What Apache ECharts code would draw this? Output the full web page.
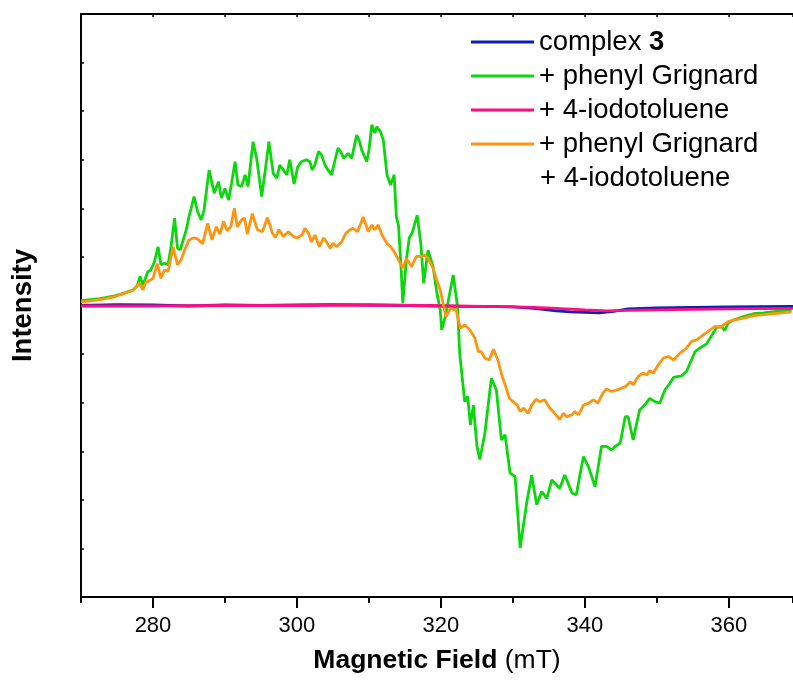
<!DOCTYPE html>
<html>
<head>
<meta charset="utf-8">
<script src="https://cdn.jsdelivr.net/npm/echarts@6/dist/echarts.min.js"></script>
<style>
  html, body { margin: 0; padding: 0; background: #fff; }
  #myChart { width: 793px; height: 682px; }
</style>
</head>
<body>
<div id="myChart"></div>
<script>
// field range (mT) and labelled ticks
var fieldMin = 270, fieldMax = 368.9;
var labelStart = 280, labelStep = 20;

var seriesNames = ['complex 3', '+ phenyl Grignard', '+ 4-iodotoluene', '+ phenyl Grignard / + 4-iodotoluene'];
var seriesColors = ['#0f1fb3', '#0cd60c', '#ff0d82', '#ff9410'];

// [field (mT), intensity (a.u.)]
var complexData = [[270,0],[275,2],[280,1],[285,-1],[290,1],[295,0],[300,1],[305,2],[310,1],[315,0],[320,-1],[323,-2],
  [326,-2],[330,-3],[333,-6],[336,-11],[338,-13],[340,-14],[342,-15],[344,-12],[346,-7],[350,-5],[355,-4],[360,-3],[368.9,-2]];

var grignardData = [[270.0,10],[272.6,14],[274.7,20],[276.1,26],[277.2,32],[277.8,40],[278.2,60],[278.6,42],[279.3,70],
  [279.7,73],[280.2,90],[280.7,121],[281.1,84],[281.6,87],[282.1,84],[282.5,121],[283.0,180],[283.4,118],[283.8,115],
  [284.2,135],[284.7,160],[285.0,183],[285.3,200],[285.7,224],[286.2,193],[286.7,176],[287.1,197],[287.5,245],[287.8,279],
  [288.5,231],[289.1,255],[289.5,221],[290.0,241],[290.5,217],[290.9,250],[291.4,296],[291.8,248],[292.3,245],[292.8,269],
  [293.2,245],[293.9,337],[294.4,303],[295.1,224],[295.6,279],[296.1,337],[296.7,272],[297.2,262],[297.6,289],[298.1,279],
  [298.6,269],[299.0,300],[299.6,250],[300.1,285],[300.6,296],[301.3,300],[301.8,296],[302.1,279],[302.5,290],[303.0,317],
  [303.4,310],[303.9,289],[304.3,279],[304.8,269],[305.3,300],[305.7,324],[306.2,313],[306.5,303],[307.1,313],[307.6,303],
  [308.3,351],[308.7,337],[309.0,320],[309.7,296],[310.0,320],[310.4,372],[310.8,355],[311.1,368],[311.3,372],[311.6,358],
  [312.0,340],[312.5,269],[313.0,248],[313.5,269],[313.8,183],[314.1,165],[314.4,94],[314.7,5],[315.0,60],[315.2,94],
  [315.6,140],[316.0,149],[316.2,160],[316.7,186],[317.2,128],[317.6,46],[317.8,46],[318.2,114],[318.9,80],[319.4,29],
  [319.9,-9],[320.1,-50],[320.6,-23],[321.7,63],[322.3,-2],[322.6,-98],[323.3,-198],[323.7,-187],[324.1,-246],[324.5,-205],
  [325.0,-290],[325.4,-317],[326.1,-263],[327.0,-150],[327.7,-174],[328.4,-277],[328.9,-266],[329.6,-345],[330.3,-352],
  [331.0,-499],[331.9,-407],[332.6,-349],[333.3,-410],[334.0,-383],[334.7,-397],[335.4,-359],[336.5,-376],[337.2,-349],
  [338.2,-386],[338.8,-390],[339.3,-349],[339.8,-311],[340.5,-332],[341.4,-373],[342.3,-290],[343.0,-290],[343.7,-297],
  [344.2,-290],[344.9,-283],[345.6,-229],[346.0,-229],[346.7,-277],[347.2,-242],[347.6,-215],[348.3,-205],[349.0,-191],
  [349.7,-198],[350.4,-201],[351.1,-174],[351.8,-160],[352.3,-148],[353.4,-145],[354.1,-136],[354.6,-119],[355.3,-95],
  [355.9,-88],[356.9,-79],[357.8,-57],[358.3,-45],[359.0,-43],[359.4,-52],[359.9,-36],[360.6,-30],[362.0,-23],[363.4,-17],
  [364.8,-15],[366.6,-12],[368.7,-10]];

var iodoData = [[270,-1],[280,-1],[290,0],[300,0],[310,1],[318,0],[322,-1],[326,-2],[330,-3],[333,-4],[336,-6],[340,-9],
  [343,-11],[346,-10],[350,-9],[355,-8],[360,-7],[368.9,-6]];

var bothData = [[270.0,7],[272.6,12],[274.7,18],[275.4,22],[277.3,32],[278.1,46],[278.6,32],[279.0,49],[279.3,49],[280.0,56],
  [280.6,86],[281.1,56],[281.6,73],[282.1,70],[282.8,121],[283.4,84],[283.9,94],[284.4,114],[285.0,135],[285.6,139],
  [286.2,137],[286.9,127],[287.6,169],[288.2,135],[288.8,162],[289.3,147],[289.8,173],[290.3,154],[290.8,162],[291.3,200],
  [291.7,162],[292.3,176],[292.7,180],[293.1,147],[293.8,189],[294.5,156],[295.2,152],[295.9,181],[296.6,149],[297.0,140],
  [297.5,156],[298.1,142],[298.8,152],[299.5,142],[300.0,139],[300.7,145],[301.1,159],[301.6,149],[302.0,131],[302.5,145],
  [303.1,121],[303.7,139],[304.1,131],[304.6,118],[305.0,128],[305.5,121],[306.2,131],[306.8,149],[307.4,156],[307.8,159],
  [308.4,152],[308.8,166],[309.2,182],[309.9,152],[310.4,166],[310.8,156],[311.3,166],[311.8,145],[312.5,128],[313.0,121],
  [313.5,111],[314.1,94],[314.7,77],[315.2,97],[315.9,80],[316.6,101],[317.3,101],[317.8,104],[318.2,97],[318.9,77],
  [319.4,53],[319.9,32],[320.4,-2],[320.7,-23],[321.3,-6],[322.1,-9],[322.7,-47],[323.3,-40],[324.0,-50],[324.7,-67],
  [325.2,-95],[325.6,-95],[326.1,-108],[326.7,-112],[327.3,-90],[327.9,-112],[328.5,-146],[329.0,-167],[329.5,-191],
  [330.0,-198],[330.6,-205],[331.0,-218],[331.5,-211],[332.1,-222],[332.6,-205],[333.2,-193],[333.7,-198],[334.4,-194],
  [335.1,-211],[335.8,-222],[336.5,-235],[337.0,-222],[337.5,-229],[338.2,-225],[338.6,-218],[339.1,-225],[339.8,-205],
  [340.5,-201],[341.2,-194],[341.8,-201],[342.5,-180],[343.0,-172],[343.7,-177],[344.8,-172],[345.6,-167],[346.3,-157],
  [346.7,-163],[347.4,-146],[348.1,-139],[348.6,-143],[349.0,-134],[349.5,-139],[350.2,-122],[350.9,-108],[351.6,-105],
  [352.3,-112],[353.2,-98],[354.1,-88],[354.8,-74],[355.5,-71],[356.4,-61],[357.4,-50],[358.1,-43],[358.8,-45],[359.9,-33],
  [360.6,-30],[362.0,-26],[363.4,-21],[364.8,-19],[366.6,-16],[368.7,-13]];

var allData = [complexData, grignardData, iodoData, bothData];
var fontFam = 'Liberation Sans, Arial, sans-serif';

var myChart = echarts.init(document.getElementById('myChart'));

var series = allData.map(function (d, i) {
    return {
        name: seriesNames[i],
        type: 'line',
        data: d,
        showSymbol: false,
        symbol: 'none',
        color: seriesColors[i],
        lineStyle: { width: 2.8, color: seriesColors[i] },
        z: 2 + i
    };
});

// plot box width in px, used to start the labelled-tick grid at 280 mT
var plotLeft = 81, plotWidth = 793 - 81;
var labelGridLeft = plotLeft + plotWidth * (labelStart - fieldMin) / (fieldMax - fieldMin);

var option = {
    animation: false,
    grid: [
        { left: plotLeft, top: 14, right: 0, bottom: 85, outerBoundsMode: 'none' },
        { left: labelGridLeft, top: 14, right: 0, bottom: 85, outerBoundsMode: 'none' }
    ],
    legend: {
        orient: 'vertical',
        left: 471,
        top: 25,
        padding: 0,
        itemWidth: 63,
        itemHeight: 3,
        itemGap: 0,
        icon: 'rect',
        selectedMode: false,
        data: seriesNames,
        formatter: function (name) {
            if (name === 'complex 3') return 'complex {b|3}';
            if (name === seriesNames[3]) return '+ phenyl Grignard';
            return name;
        },
        textStyle: {
            fontFamily: fontFam, fontSize: 27.5, lineHeight: 34, color: '#000',
            rich: { b: { fontFamily: fontFam, fontSize: 27.5, lineHeight: 34, fontWeight: 'bold', color: '#000' } }
        }
    },
    graphic: [{
        type: 'text',
        left: 540,
        top: 164,
        style: { text: '+ 4-iodotoluene', font: '27.5px ' + fontFam, fill: '#000' }
    }],
    xAxis: [{
        // main axis: short ticks every 10 mT
        type: 'value', gridIndex: 0, min: fieldMin, max: fieldMax, interval: 10, position: 'bottom',
        axisLine: { show: true, onZero: false, lineStyle: { color: '#000', width: 2 } },
        axisTick: { show: true, length: 6, lineStyle: { color: '#000', width: 2 } },
        axisLabel: { show: false },
        splitLine: { show: false },
        name: '{b|Magnetic Field} (mT)',
        nameLocation: 'middle',
        nameGap: 50,
        nameTextStyle: {
            fontFamily: fontFam, fontSize: 26.5, color: '#000',
            rich: { b: { fontFamily: fontFam, fontSize: 26.5, fontWeight: 'bold', color: '#000' } }
        }
    }, {
        type: 'value', gridIndex: 0, min: fieldMin, max: fieldMax, interval: 10, position: 'top',
        axisLine: { show: true, onZero: false, lineStyle: { color: '#000', width: 2 } },
        axisTick: { show: true, inside: true, length: 3, lineStyle: { color: '#000', width: 1.5 } },
        axisLabel: { show: false },
        splitLine: { show: false }
    }, {
        // labelled long ticks every 20 mT, starting at 280
        type: 'value', gridIndex: 1, min: labelStart, max: fieldMax, interval: labelStep, position: 'bottom',
        axisLine: { show: false, onZero: false },
        axisTick: { show: true, length: 11, lineStyle: { color: '#000', width: 2 } },
        axisLabel: { showMaxLabel: false, margin: 18, fontSize: 22, color: '#000', fontFamily: fontFam },
        splitLine: { show: false }
    }],
    yAxis: [{
        type: 'value', gridIndex: 0, min: -600, max: 600, interval: 100,
        axisLine: { show: true, onZero: false, lineStyle: { color: '#000', width: 2 } },
        axisTick: { show: true, inside: true, length: 3, lineStyle: { color: '#000', width: 1.5 } },
        axisLabel: { show: false },
        splitLine: { show: false },
        name: 'Intensity',
        nameLocation: 'middle',
        nameGap: 44,
        nameTextStyle: { fontFamily: fontFam, fontSize: 27.5, fontWeight: 'bold', color: '#000' }
    }, {
        type: 'value', gridIndex: 1, min: -600, max: 600, show: false
    }],
    series: series
};

myChart.setOption(option);
</script>
</body>
</html>
